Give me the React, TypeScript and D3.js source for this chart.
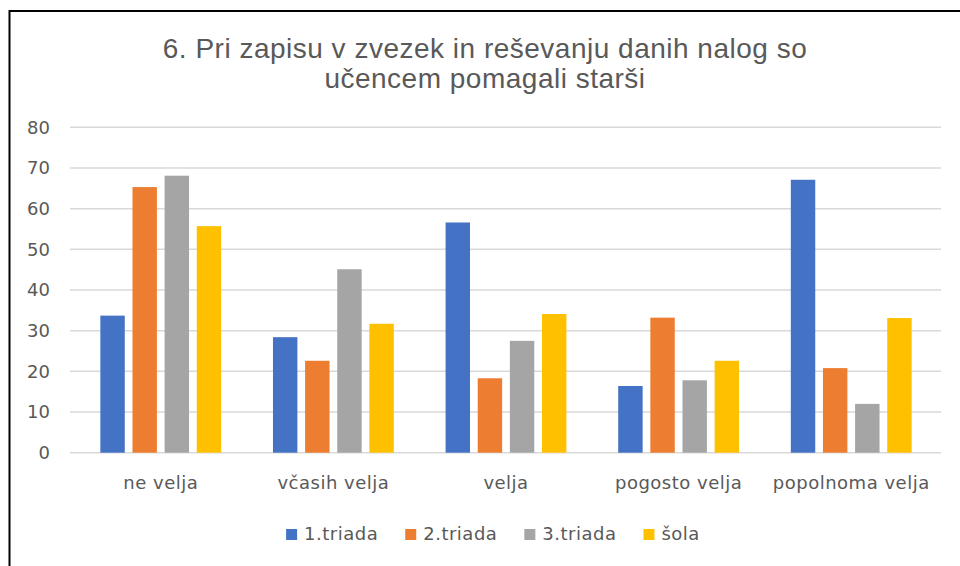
import React, { useEffect, useRef } from 'react';
import * as d3 from 'd3';

const categories = ['ne velja', 'včasih velja', 'velja', 'pogosto velja', 'popolnoma velja'];
const seriesNames = ['1.triada', '2.triada', '3.triada', 'šola'];
const triada1 = [33.7, 28.4, 56.6, 16.4, 67.1];
const triada2 = [65.3, 22.6, 18.3, 33.2, 20.8];
const triada3 = [68.1, 45.1, 27.5, 17.8, 12.0];
const sola = [55.7, 31.7, 34.1, 22.6, 33.1];
const yTicks = [0, 10, 20, 30, 40, 50, 60, 70, 80];
const titleLines = ['6. Pri zapisu v zvezek in reševanju danih nalog so', 'učencem pomagali starši'];

const colors = ['#4472C4', '#ED7D31', '#A5A5A5', '#FFC000'];
const W = 960;
const H = 566;

const App: React.FC = () => {
  const container = useRef<HTMLDivElement>(null);

  useEffect(() => {
    const root = d3.select(container.current);
    root.selectAll('*').remove();

    const svg = root
      .append('svg')
      .attr('width', W)
      .attr('height', H)
      .style('display', 'block');

    svg.append('rect').attr('width', W).attr('height', H).attr('fill', '#fff');

    // outer chart frame (runs off the right and bottom edges)
    svg.append('rect')
      .attr('x', 9.5)
      .attr('y', 11)
      .attr('width', W + 20)
      .attr('height', H + 20)
      .attr('fill', 'none')
      .attr('stroke', '#000')
      .attr('stroke-width', 2);

    const values = [triada1, triada2, triada3, sola];
    const rows = categories.map((c, i) => ({
      cat: c,
      vals: seriesNames.map((s, j) => ({ s, v: values[j][i], color: colors[j] })),
    }));

    const x0 = d3.scaleBand<string>()
      .domain(categories)
      .range([71, 941])
      .paddingInner(0.3)
      .paddingOuter(0.17);

    const x1 = d3.scaleBand<string>()
      .domain(seriesNames)
      .range([0, x0.bandwidth()])
      .paddingInner(0.24);

    const yScale = d3.scaleLinear()
      .domain([0, 80])
      .range([452.7, 127.3]);

    // title
    svg.append('g')
      .selectAll('text')
      .data(titleLines)
      .join('text')
      .attr('x', 485)
      .attr('y', (d, i) => 58 + i * 30)
      .attr('text-anchor', 'middle')
      .attr('font-family', '"Liberation Sans", Arial, sans-serif')
      .attr('font-size', 28)
      .attr('letter-spacing', 0.5)
      .attr('fill', '#595959')
      .text((d) => d);

    // gridlines
    svg.append('g')
      .selectAll('line')
      .data(yTicks)
      .join('line')
      .attr('x1', 70)
      .attr('x2', 941)
      .attr('y1', (d) => yScale(d))
      .attr('y2', (d) => yScale(d))
      .attr('stroke', '#d9d9d9')
      .attr('stroke-width', 1.5);

    // y axis labels
    const yAxis = d3.axisLeft(yScale).tickValues(yTicks).tickSize(0).tickPadding(0);
    const yg = svg.append('g')
      .attr('transform', 'translate(50,0)')
      .call(yAxis);
    yg.select('.domain').remove();
    yg.selectAll('text')
      .attr('font-family', '"DejaVu Sans", sans-serif')
      .attr('font-size', 18)
      .attr('fill', '#595959');

    // bars
    svg.append('g')
      .selectAll('g')
      .data(rows)
      .join('g')
      .attr('transform', (d) => `translate(${x0(d.cat)},0)`)
      .selectAll('rect')
      .data((d) => d.vals)
      .join('rect')
      .attr('x', (d) => x1(d.s) as number)
      .attr('y', (d) => yScale(d.v))
      .attr('width', x1.bandwidth())
      .attr('height', (d) => yScale(0) - yScale(d.v))
      .attr('fill', (d) => d.color);

    // category labels
    const xAxis = d3.axisBottom(x0).tickSize(0).tickPadding(0);
    const xg = svg.append('g')
      .call(xAxis);
    xg.select('.domain').remove();
    xg.selectAll('text')
      .attr('y', 489)
      .attr('dy', null)
      .attr('font-family', '"DejaVu Sans", sans-serif')
      .attr('font-size', 18)
      .attr('letter-spacing', 0.5)
      .attr('fill', '#595959');

    // legend
    const legend = svg.append('g');
    const items = legend.selectAll('g')
      .data(seriesNames)
      .join('g');
    items.append('rect')
      .attr('width', 11)
      .attr('height', 11)
      .attr('y', 529)
      .attr('fill', (d, i) => colors[i]);
    items.append('text')
      .attr('x', 18)
      .attr('y', 540)
      .attr('font-family', '"DejaVu Sans", sans-serif')
      .attr('font-size', 18)
      .attr('letter-spacing', 0.5)
      .attr('fill', '#595959')
      .text((d) => d);

    const widths: number[] = [];
    items.each(function () {
      const t = d3.select(this).select('text').node() as SVGTextElement;
      widths.push(18 + t.getComputedTextLength());
    });
    const gap = 27;
    const total = d3.sum(widths) + gap * (widths.length - 1);
    let cx = 493 - total / 2;
    items.attr('transform', (d, i) => {
      const pos = cx;
      cx += widths[i] + gap;
      return `translate(${pos},0)`;
    });
  }, []);

  return <div ref={container} style={{ position: 'absolute', left: 0, top: 0 }} />;
};

export default App;
